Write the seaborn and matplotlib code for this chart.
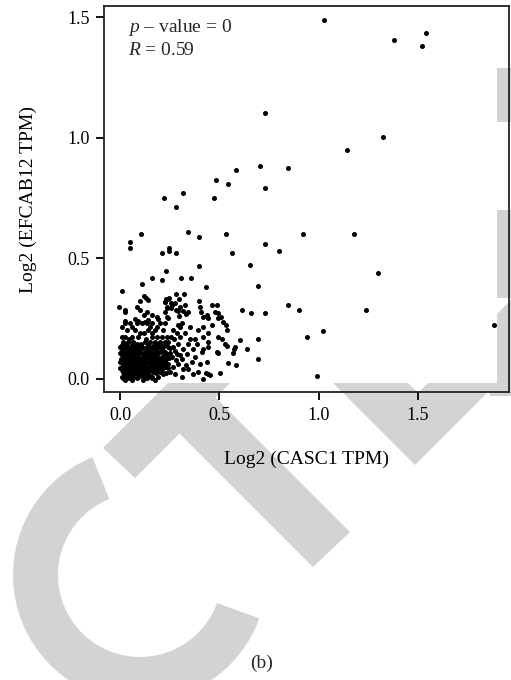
import matplotlib
matplotlib.use("Agg")
import matplotlib.pyplot as plt
from matplotlib.patches import Polygon, Wedge, Rectangle
import seaborn as sns
import pandas as pd

# scattered samples (log2 CASC1 TPM, log2 EFCAB12 TPM)
casc1_sparse = [1.028, 1.380, 1.540, 1.518, 0.730, 1.322, 1.144, 0.705, 0.847, 0.730,
                0.582, 0.483, 0.544, 0.319, 0.223, 0.471, 0.284, 0.342, 0.107, 0.534,
                0.398, 0.052, 0.052, 0.248, 0.248, 0.211, 0.284, 0.564, 0.923, 1.178,
                0.730, 0.799, 0.654, 1.300, 0.695, 0.847, 0.902, 1.240, 0.658, 0.730,
                1.881, 1.020, 0.941, 0.695, 0.695, 0.993, 0.398, 0.233, 0.161, 0.213,
                0.109, 0.307, 0.355, 0.431, 0.010, 0.122, 0.129, 0.230, 0.248, 0.284,
                0.321, 0.398, -0.004, 0.025, 0.084, 0.099, 0.134, 0.160, 0.185, 0.257,
                0.275, 0.284, 0.303, 0.327, 0.344, 0.403, 0.406, 0.419, 0.436, 0.465,
                0.487, 0.495, 0.507, 0.612, 0.537, 0.495, 0.604, 0.579, 0.570, 0.641,
                0.495, 0.545, 0.584, 0.503, 0.431, 0.453, 0.419, 0.537, 0.575, 0.297,
                0.240, 0.226, 0.264, 0.235, 0.257, 0.293, 0.319, 0.331, 0.297, 0.478,
                0.441, 0.495, 0.240, 0.293, 0.311, 0.461, 0.520, 0.532, 0.101, 0.140,
                0.225, 0.027, 0.122, 0.193, 0.235, 0.226, 0.235, 0.025, 0.076, 0.092,
                0.126, 0.142]
efcab12_sparse = [1.487, 1.407, 1.434, 1.380, 1.102, 1.005, 0.949, 0.883, 0.873, 0.791,
                  0.866, 0.826, 0.809, 0.769, 0.752, 0.752, 0.714, 0.609, 0.599, 0.599,
                  0.588, 0.568, 0.541, 0.541, 0.531, 0.521, 0.521, 0.521, 0.599, 0.599,
                  0.561, 0.531, 0.472, 0.439, 0.385, 0.308, 0.285, 0.285, 0.275, 0.275,
                  0.224, 0.200, 0.174, 0.165, 0.082, 0.012, 0.470, 0.449, 0.418, 0.409,
                  0.394, 0.418, 0.418, 0.383, 0.365, 0.344, 0.335, 0.331, 0.335, 0.353,
                  0.353, 0.324, 0.300, 0.286, 0.297, 0.286, 0.279, 0.266, 0.259, 0.314,
                  0.314, 0.286, 0.300, 0.307, 0.279, 0.300, 0.279, 0.259, 0.266, 0.307,
                  0.307, 0.273, 0.259, 0.286, 0.203, 0.176, 0.162, 0.134, 0.107, 0.123,
                  0.107, 0.068, 0.058, 0.026, 0.024, 0.017, -0.001, 0.137, 0.124, 0.332,
                  0.332, 0.320, 0.305, 0.296, 0.293, 0.280, 0.282, 0.269, 0.263, 0.276,
                  0.253, 0.251, 0.253, 0.224, 0.231, 0.224, 0.238, 0.224, 0.324, 0.328,
                  0.318, 0.276, 0.265, 0.250, 0.300, 0.277, 0.259, 0.240, 0.250, 0.240,
                  0.237, 0.245]

# dense low-expression cluster, read row by row
cluster_levels = [0.230, 0.215, 0.203, 0.190, 0.176, 0.165, 0.155, 0.145, 0.140, 0.134,
                  0.128, 0.124, 0.118, 0.113, 0.108, 0.103, 0.098, 0.093, 0.088, 0.083,
                  0.078, 0.072, 0.067, 0.062, 0.056, 0.051, 0.046, 0.041, 0.036, 0.030,
                  0.025, 0.020, 0.015, 0.010, 0.003, -0.004]
cluster_x = [
    [0.025, 0.050, 0.086, 0.111, 0.136, 0.161, 0.201, 0.226],
    [0.010, 0.060, 0.150, 0.185, 0.300, 0.350, 0.420],
    [0.034, 0.075, 0.142, 0.176, 0.218, 0.394, 0.265],
    [0.100, 0.120, 0.160, 0.285, 0.327, 0.445],
    [0.008, 0.025, 0.059, 0.092, 0.159, 0.185, 0.210, 0.235, 0.302, 0.419, 0.257],
    [0.045, 0.130, 0.270, 0.352, 0.380, 0.512],
    [0.017, 0.042, 0.067, 0.126, 0.151, 0.176, 0.201, 0.226, 0.243, 0.441],
    [0.085, 0.105, 0.190, 0.293, 0.344, 0.386, 0.528],
    [0.012, 0.030, 0.062, 0.098, 0.142, 0.170, 0.205, 0.232],
    [0.000, 0.025, 0.050, 0.075, 0.109, 0.134, 0.159, 0.193, 0.218, 0.243, 0.268, 0.444],
    [0.005, 0.020, 0.058, 0.080, 0.118, 0.160, 0.178, 0.250],
    [0.040, 0.090, 0.145, 0.210, 0.319, 0.369, 0.420],
    [0.015, 0.047, 0.068, 0.095, 0.138, 0.188, 0.215, 0.275],
    [0.008, 0.034, 0.059, 0.084, 0.101, 0.126, 0.151, 0.176, 0.201, 0.226, 0.411, 0.487],
    [0.000, 0.028, 0.048, 0.078, 0.108, 0.140, 0.160, 0.190, 0.252],
    [0.020, 0.070, 0.115, 0.165, 0.235, 0.285, 0.336],
    [0.010, 0.036, 0.066, 0.086, 0.125, 0.150, 0.172, 0.220, 0.300],
    [0.017, 0.042, 0.059, 0.075, 0.092, 0.117, 0.134, 0.159, 0.185, 0.210, 0.260, 0.377],
    [0.025, 0.038, 0.070, 0.090, 0.110, 0.128, 0.175, 0.200, 0.245],
    [0.005, 0.050, 0.100, 0.145, 0.195, 0.230, 0.311],
    [0.012, 0.032, 0.060, 0.078, 0.118, 0.135, 0.160, 0.185, 0.208, 0.280],
    [0.000, 0.025, 0.042, 0.067, 0.084, 0.101, 0.126, 0.142, 0.168, 0.193, 0.218, 0.361, 0.436],
    [0.008, 0.036, 0.050, 0.076, 0.095, 0.120, 0.150, 0.178, 0.200, 0.232],
    [0.015, 0.055, 0.110, 0.155, 0.243, 0.290, 0.403],
    [0.020, 0.042, 0.060, 0.085, 0.100, 0.125, 0.162, 0.190, 0.215, 0.330],
    [0.008, 0.034, 0.050, 0.067, 0.092, 0.109, 0.134, 0.151, 0.176, 0.201, 0.226, 0.268],
    [0.000, 0.028, 0.058, 0.082, 0.102, 0.140, 0.165, 0.240],
    [0.020, 0.075, 0.120, 0.185, 0.319, 0.344],
    [0.010, 0.045, 0.066, 0.098, 0.128, 0.155, 0.210],
    [0.017, 0.034, 0.059, 0.084, 0.109, 0.142, 0.168, 0.201, 0.252, 0.394],
    [0.025, 0.070, 0.080, 0.120, 0.180, 0.230],
    [0.045, 0.095, 0.130, 0.215, 0.277, 0.369, 0.444],
    [0.020, 0.055, 0.105, 0.145],
    [0.008, 0.034, 0.067, 0.092, 0.117, 0.159, 0.193, 0.311],
    [0.015, 0.045, 0.085, 0.135, 0.160],
    [0.025, 0.059, 0.117, 0.176],
]

x_ticks = [0.0, 0.5, 1.0, 1.5]
y_ticks = [0.0, 0.5, 1.0, 1.5]

xs = list(casc1_sparse)
ys = list(efcab12_sparse)
for lvl, row in zip(cluster_levels, cluster_x):
    xs += row
    ys += [lvl] * len(row)
df = pd.DataFrame({"casc1": xs, "efcab12": ys})

sns.set_style("ticks")
plt.rcParams["font.family"] = ["Liberation Serif", "DejaVu Serif"]
plt.rcParams["mathtext.fontset"] = "custom"
plt.rcParams["mathtext.it"] = "Liberation Serif:italic"
plt.rcParams["mathtext.rm"] = "Liberation Serif"

fig = plt.figure(figsize=(5.11, 6.8), dpi=100)

# retraction watermark, drawn in pixel space behind the plot
bg = fig.add_axes([0, 0, 1, 1], zorder=0)
bg.set_xlim(0, 511)
bg.set_ylim(680, 0)
bg.axis("off")
wm = "#d3d3d3"
bg.add_patch(Wedge((140, 575), 127, 20, 248, width=45, color=wm, lw=0))
bg.add_patch(Polygon([(103, 448), (135, 478), (313, 300), (251, 300)], color=wm, lw=0))
bg.add_patch(Polygon([(160, 414), (313, 567), (350, 532), (200, 382)], color=wm, lw=0))
bg.add_patch(Polygon([(250, 300), (325, 300), (418, 393), (511, 300), (580, 300), (415, 465)],
                     color=wm, lw=0))
bg.add_patch(Rectangle((490, 68), 25, 54, color=wm, lw=0))
bg.add_patch(Rectangle((490, 210), 25, 88, color=wm, lw=0))
bg.add_patch(Rectangle((490, 336), 25, 60, color=wm, lw=0))
bg.add_patch(Rectangle((105, 6), 392, 377, color="white", lw=0))

ax = fig.add_axes([0.2045, 0.4235, 0.7916, 0.5677], zorder=1)
ax.patch.set_alpha(0)
sns.scatterplot(data=df, x="casc1", y="efcab12", ax=ax, color="black", s=13, linewidth=0)

ax.set_xlim(-0.078, 1.958)
ax.set_ylim(-0.054, 1.546)
ax.set_xticks(x_ticks)
ax.set_yticks(y_ticks)
ax.set_xticklabels([f"{t:.1f}" for t in x_ticks])
ax.set_yticklabels([f"{t:.1f}" for t in y_ticks])
ax.tick_params(direction="out", length=5.8, width=1.3, color="black",
               labelsize=13, pad=5, labelcolor="black")
for sp in ax.spines.values():
    sp.set_visible(True)
    sp.set_linewidth(1.3)
    sp.set_color("#222222")

ax.set_xlabel("Log2 (CASC1 TPM)", fontsize=14, color="black")
ax.set_ylabel("Log2 (EFCAB12 TPM)", fontsize=14, color="black")
ax.xaxis.set_label_coords(0.5, -0.152)
ax.yaxis.set_label_coords(-0.166, 0.5)

ax.text(0.058, 0.933, "$p$ – value = 0", transform=ax.transAxes, fontsize=14,
        va="baseline", ha="left")
ax.text(0.058, 0.873, "$R$ = 0.59", transform=ax.transAxes, fontsize=14,
        va="baseline", ha="left")

fig.text(0.511, 0.025, "(b)", fontsize=14, ha="center", va="center")

fig.savefig("out.png", dpi=100)
